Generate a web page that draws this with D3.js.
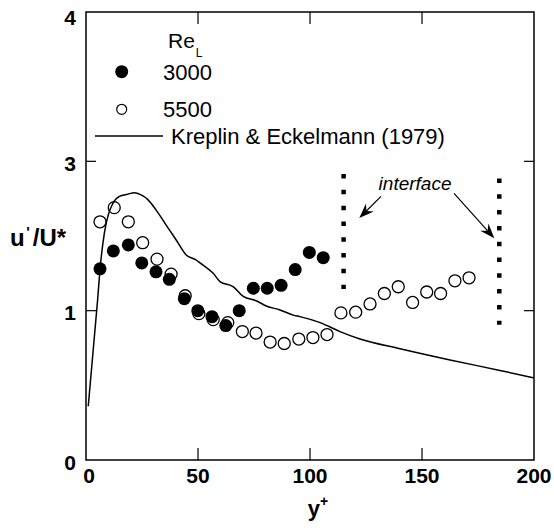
<!DOCTYPE html>
<html>
<head>
<meta charset="utf-8">
<script src="https://cdn.jsdelivr.net/npm/d3@7/dist/d3.min.js"></script>
<style>
  html, body { margin: 0; padding: 0; background: #fff; }
  svg { display: block; font-family: "Liberation Sans", Arial, sans-serif; }
</style>
</head>
<body>
<svg id="chart" width="554" height="528"></svg>
<script>
// Axis ticks
const xTicks = [0, 50, 100, 150, 200];
const yTicks = [0, 1, 3, 4];

// Re_L = 3000 (filled circles)
const yPlus3000 = [6.25, 12.2, 18.9, 24.9, 31.25, 37.2, 43.9, 49.9, 56.25, 62.4, 68.4, 74.7, 80.9, 87.1, 93.4, 99.7, 105.9];
const u3000     = [1.56, 1.80, 1.88, 1.64, 1.52, 1.42, 1.16, 1.00, 0.96, 0.90, 1.00, 1.30, 1.30, 1.34, 1.55, 1.78, 1.71];

// Re_L = 5500 (open circles)
const yPlus5500 = [6.25, 12.6, 18.9, 25.3, 31.7, 38.0, 44.3, 50.4, 56.8, 63.3, 69.8, 75.9, 82.2, 88.5, 95.0, 101.3, 107.6, 113.8, 120.4, 126.8, 133.2, 139.4, 145.8, 152.1, 158.3, 164.7, 171.0];
const u5500     = [2.19, 2.38, 2.19, 1.91, 1.69, 1.49, 1.20, 0.98, 0.94, 0.92, 0.86, 0.85, 0.79, 0.78, 0.81, 0.82, 0.84, 0.985, 0.99, 1.09, 1.23, 1.32, 1.11, 1.25, 1.23, 1.40, 1.44];

// Kreplin & Eckelmann (1979) profile
const yPlusKE = [1.0, 5.2, 6.25, 8.2, 10.1, 11.9, 14.9, 18.6, 21.6, 24.6, 27.5, 31.25, 35.7, 40.2, 44.6, 49.1, 50.9, 56.8, 59.8, 65.8, 70.2, 76.2, 80.7, 86.6, 92.5, 95.5, 104.5, 113.4, 122.3, 140.2, 162.5, 184.8, 200];
const uKE     = [0.36, 1.15, 1.55, 2.04, 2.30, 2.43, 2.53, 2.56, 2.58, 2.55, 2.49, 2.35, 2.15, 1.95, 1.75, 1.68, 1.64, 1.50, 1.39, 1.32, 1.19, 1.13, 1.06, 1.01, 0.97, 0.96, 0.92, 0.86, 0.81, 0.745, 0.67, 0.60, 0.55];

// Interface locations (y+) and vertical extent of each marker column
const interfaceYPlus  = [115, 184.5];
const interfaceTop    = [2.83, 2.77];
const interfaceBottom = [1.29, 0.906];

const svg = d3.select("#chart");
const plotLeft = 86, plotRight = 534, plotTop = 12, plotBottom = 460;

const x = d3.scaleLinear().domain([0, 200]).range([plotLeft, plotRight]);
// evenly spaced tick positions for the labelled values
const y = d3.scaleLinear()
  .domain(yTicks)
  .range(yTicks.map((d, i) => plotBottom - i * (plotBottom - plotTop) / (yTicks.length - 1)));

// Frame
svg.append("rect")
  .attr("x", plotLeft).attr("y", plotTop)
  .attr("width", plotRight - plotLeft).attr("height", plotBottom - plotTop)
  .attr("fill", "none").attr("stroke", "#000").attr("stroke-width", 1.5);

// Inward ticks on all four sides
const xInner = xTicks.slice(1, -1);
svg.append("g").selectAll("line").data(xInner).join("line")
  .attr("x1", d => x(d)).attr("x2", d => x(d))
  .attr("y1", plotBottom).attr("y2", plotBottom - 12)
  .attr("stroke", "#000").attr("stroke-width", 1.2);
svg.append("g").selectAll("line").data(xInner).join("line")
  .attr("x1", d => x(d)).attr("x2", d => x(d))
  .attr("y1", plotTop).attr("y2", plotTop + 12)
  .attr("stroke", "#000").attr("stroke-width", 1.2);
const yInner = yTicks.slice(1, -1);
svg.append("g").selectAll("line").data(yInner).join("line")
  .attr("x1", plotLeft).attr("x2", plotLeft + 10)
  .attr("y1", d => y(d)).attr("y2", d => y(d))
  .attr("stroke", "#000").attr("stroke-width", 1.2);
svg.append("g").selectAll("line").data(yInner).join("line")
  .attr("x1", plotRight).attr("x2", plotRight - 10)
  .attr("y1", d => y(d)).attr("y2", d => y(d))
  .attr("stroke", "#000").attr("stroke-width", 1.2);

// Tick labels
svg.append("g").selectAll("text").data(xTicks).join("text")
  .attr("x", d => x(d) + (d === 0 ? 3 : 0)).attr("y", 483)
  .attr("text-anchor", "middle")
  .attr("font-size", 21).attr("font-weight", "bold")
  .text(d => d);
svg.append("g").selectAll("text").data(yTicks).join("text")
  .attr("x", 76).attr("y", d => y(d) + (d === 4 ? 5 : 2))
  .attr("dy", "0.36em")
  .attr("text-anchor", "end")
  .attr("font-size", 21).attr("font-weight", "bold")
  .text(d => d);

// Axis titles
const xt = svg.append("text")
  .attr("x", 318).attr("y", 516)
  .attr("text-anchor", "middle")
  .attr("font-size", 22).attr("font-weight", "bold");
xt.append("tspan").text("y");
xt.append("tspan").attr("font-size", 14).attr("dy", -10).text("+");

const yt = svg.append("text")
  .attr("x", 10).attr("y", 246)
  .attr("font-size", 24).attr("font-weight", "bold");
yt.append("tspan").text("u");
yt.append("tspan").attr("font-size", 15).attr("dy", -9).attr("dx", 1.5).text("'");
yt.append("tspan").attr("dy", 9).attr("dx", 3).text("/U*");

// Kreplin & Eckelmann line
const keLine = d3.line()
  .x(d => x(d[0])).y(d => y(d[1]))
  .curve(d3.curveMonotoneX);
svg.append("path")
  .datum(d3.zip(yPlusKE, uKE))
  .attr("d", keLine)
  .attr("fill", "none").attr("stroke", "#000").attr("stroke-width", 1.5);

// Re_L = 5500
svg.append("g").selectAll("circle").data(d3.zip(yPlus5500, u5500)).join("circle")
  .attr("cx", d => x(d[0])).attr("cy", d => y(d[1]))
  .attr("r", 6).attr("fill", "none")
  .attr("stroke", "#000").attr("stroke-width", 1.3);

// Re_L = 3000
svg.append("g").selectAll("circle").data(d3.zip(yPlus3000, u3000)).join("circle")
  .attr("cx", d => x(d[0])).attr("cy", d => y(d[1]))
  .attr("r", 6.5).attr("fill", "#000");

// Interface markers (square dotted columns)
svg.append("g").selectAll("line").data(interfaceYPlus).join("line")
  .attr("x1", d => x(d)).attr("x2", d => x(d))
  .attr("y1", (d, i) => y(interfaceTop[i]))
  .attr("y2", (d, i) => y(interfaceBottom[i]))
  .attr("stroke", "#000").attr("stroke-width", 4.5)
  .attr("stroke-dasharray", "4.5,11.3");

// "interface" annotation with arrows to each column
svg.append("text")
  .attr("x", x(146.9)).attr("y", y(2.62))
  .attr("text-anchor", "middle")
  .attr("font-size", 19).attr("font-style", "italic")
  .text("interface");

const arrows = [
  { from: [131.7, 2.53], to: [122.0, 2.24] },
  { from: [164.3, 2.57], to: [182.3, 1.97] }
];
arrows.forEach(a => {
  const x0 = x(a.from[0]), y0 = y(a.from[1]);
  const x1 = x(a.to[0]), y1 = y(a.to[1]);
  const ang = Math.atan2(y1 - y0, x1 - x0);
  const len = 15, hw = 5.5, notch = 10;
  const bx = x1 - notch * Math.cos(ang), by = y1 - notch * Math.sin(ang);
  svg.append("line")
    .attr("x1", x0).attr("y1", y0).attr("x2", bx).attr("y2", by)
    .attr("stroke", "#000").attr("stroke-width", 1.2);
  const px = -Math.sin(ang), py = Math.cos(ang);
  const ex = x1 - len * Math.cos(ang), ey = y1 - len * Math.sin(ang);
  svg.append("path")
    .attr("d", `M${x1},${y1}L${ex + hw * px},${ey + hw * py}L${bx},${by}L${ex - hw * px},${ey - hw * py}Z`)
    .attr("fill", "#000");
});

// Legend
const lg = svg.append("g");
const re = lg.append("text").attr("x", 168).attr("y", 48).attr("font-size", 21);
re.append("tspan").text("Re");
re.append("tspan").attr("font-size", 12).attr("dy", 9).attr("dx", 1).text("L");

lg.append("circle").attr("cx", 121.7).attr("cy", 71.7).attr("r", 6.5).attr("fill", "#000");
lg.append("text").attr("x", 163).attr("y", 79.5).attr("font-size", 22).text("3000");

lg.append("circle").attr("cx", 121.7).attr("cy", 109.3).attr("r", 5)
  .attr("fill", "none").attr("stroke", "#000").attr("stroke-width", 1.2);
lg.append("text").attr("x", 163).attr("y", 117).attr("font-size", 22).text("5500");

lg.append("line").attr("x1", 95).attr("x2", 163).attr("y1", 136).attr("y2", 136)
  .attr("stroke", "#000").attr("stroke-width", 1.3);
lg.append("text").attr("x", 171).attr("y", 144).attr("font-size", 22).text("Kreplin & Eckelmann (1979)");
</script>
</body>
</html>
